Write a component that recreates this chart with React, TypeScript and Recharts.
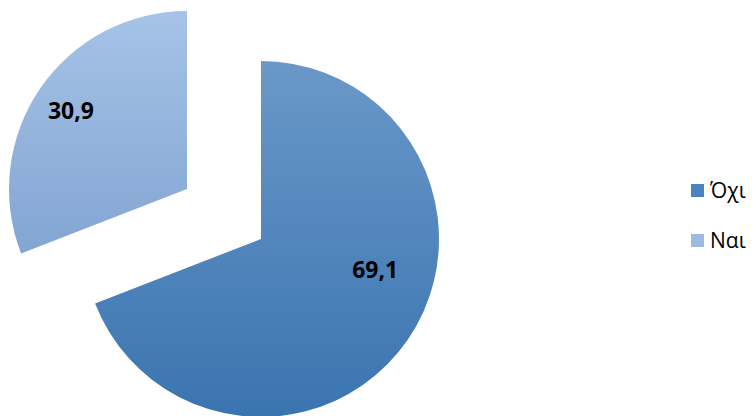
import React from 'react';
import { PieChart, Pie, Cell, Legend } from 'recharts';

const categories = ['Όχι', 'Ναι'];
const values = [69.1, 30.9];
const labels = ['69,1', '30,9'];

const data = categories.map((name, i) => ({ name, value: values[i], label: labels[i] }));

const FILLS = ['url(#gradOxi)', 'url(#gradNai)'];
const LEGEND_FILLS = ['#4a83bd', '#9dbbe2'];
const LABEL_PLACE = [
  { r: 0.663, shift: 19.7 },
  { r: 0.79, shift: 0 },
];
const RAD = Math.PI / 180;

const makeLabel = (target: number) => (props: any) => {
  const { cx, cy, midAngle, outerRadius, index } = props;
  if (index !== target) return null;
  const p = LABEL_PLACE[index];
  const a = (midAngle + p.shift) * RAD;
  const x = cx + outerRadius * p.r * Math.cos(a);
  const y = cy - outerRadius * p.r * Math.sin(a);
  return (
    <text
      x={x}
      y={y}
      textAnchor="middle"
      dominantBaseline="central"
      fontFamily="'Open Sans', sans-serif"
      fontWeight={700}
      fontSize={23}
      fill="#000"
    >
      {data[index].label}
    </text>
  );
};

const LegendContent = () => (
  <div style={{ fontFamily: "'Open Sans', sans-serif", fontSize: 21, color: '#000' }}>
    {data.map((d, i) => (
      <div key={d.name} style={{ display: 'flex', alignItems: 'center', height: 50, whiteSpace: 'nowrap' }}>
        <span style={{ display: 'inline-block', width: 13, height: 13, background: LEGEND_FILLS[i], marginRight: 6 }} />
        <span>{d.name}</span>
      </div>
    ))}
  </div>
);

export default function App() {
  return (
    <div style={{ position: 'absolute', left: 0, top: 0, width: 756, height: 416, overflow: 'hidden', background: '#fff' }}>
      <PieChart width={756} height={416} margin={{ top: 0, right: 0, bottom: 0, left: 0 }}>
        <defs>
          <linearGradient id="gradOxi" x1="0" y1="0" x2="0" y2="1">
            <stop offset="0%" stopColor="#6a98c8" />
            <stop offset="100%" stopColor="#3a74b0" />
          </linearGradient>
          <linearGradient id="gradNai" x1="0" y1="0" x2="0" y2="1">
            <stop offset="0%" stopColor="#a6c3e7" />
            <stop offset="100%" stopColor="#82a5d2" />
          </linearGradient>
        </defs>
        <Pie
          data={data}
          dataKey="value"
          nameKey="name"
          cx={261}
          cy={239}
          outerRadius={178}
          startAngle={90}
          endAngle={-270}
          stroke="none"
          labelLine={false}
          label={makeLabel(0)}
          isAnimationActive={false}
        >
          {data.map((d, i) => (
            <Cell key={d.name} fill={i === 0 ? FILLS[0] : 'none'} />
          ))}
        </Pie>
        <Pie
          data={data}
          dataKey="value"
          nameKey="name"
          cx={187}
          cy={189}
          outerRadius={178}
          startAngle={90}
          endAngle={-270}
          stroke="none"
          labelLine={false}
          label={makeLabel(1)}
          isAnimationActive={false}
        >
          {data.map((d, i) => (
            <Cell key={d.name} fill={i === 1 ? FILLS[1] : 'none'} />
          ))}
        </Pie>
        <Legend
          content={<LegendContent />}
          layout="vertical"
          wrapperStyle={{ position: 'absolute', left: 691, top: 165, width: 80 }}
        />
      </PieChart>
    </div>
  );
}
